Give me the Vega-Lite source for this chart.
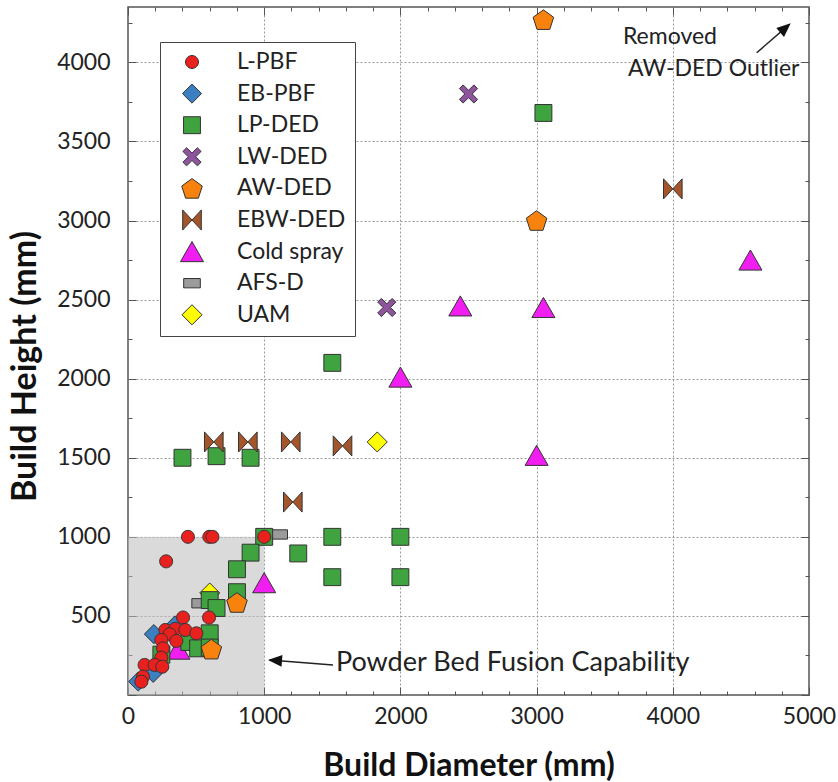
{
  "$schema": "https://vega.github.io/schema/vega-lite/v6.json",
  "width": 681,
  "height": 688,
  "autosize": "none",
  "padding": {"left": 128, "top": 7, "right": 29, "bottom": 87},
  "background": "white",
  "config": {
    "view": {"stroke": "#555", "strokeWidth": 1.5},
    "font": "Lato"
  },
  "datasets": {
    "pts": [
      {"p": "AFS-D", "d": 1110, "h": 1015},
      {"p": "AFS-D", "d": 530, "h": 580},
      {"p": "UAM", "d": 1830, "h": 1600},
      {"p": "UAM", "d": 600, "h": 645},
      {"p": "Cold spray", "d": 4570, "h": 2750},
      {"p": "Cold spray", "d": 2440, "h": 2460},
      {"p": "Cold spray", "d": 3050, "h": 2450},
      {"p": "Cold spray", "d": 2000, "h": 2010},
      {"p": "Cold spray", "d": 3000, "h": 1515},
      {"p": "Cold spray", "d": 1000, "h": 710},
      {"p": "Cold spray", "d": 370, "h": 290},
      {"p": "EB-PBF", "d": 190, "h": 385},
      {"p": "EB-PBF", "d": 345, "h": 440},
      {"p": "EB-PBF", "d": 75, "h": 85},
      {"p": "EB-PBF", "d": 185, "h": 140},
      {"p": "LP-DED", "d": 400, "h": 1500},
      {"p": "LP-DED", "d": 650, "h": 1510},
      {"p": "LP-DED", "d": 900, "h": 1500},
      {"p": "LP-DED", "d": 1500, "h": 2100},
      {"p": "LP-DED", "d": 3050, "h": 3680},
      {"p": "LP-DED", "d": 1000, "h": 1000},
      {"p": "LP-DED", "d": 900, "h": 900},
      {"p": "LP-DED", "d": 800, "h": 795},
      {"p": "LP-DED", "d": 1250, "h": 895},
      {"p": "LP-DED", "d": 1500, "h": 1000},
      {"p": "LP-DED", "d": 2000, "h": 1000},
      {"p": "LP-DED", "d": 1500, "h": 745},
      {"p": "LP-DED", "d": 2000, "h": 745},
      {"p": "LP-DED", "d": 800, "h": 650},
      {"p": "LP-DED", "d": 600, "h": 600},
      {"p": "LP-DED", "d": 650, "h": 550},
      {"p": "LP-DED", "d": 600, "h": 390},
      {"p": "LP-DED", "d": 450, "h": 335},
      {"p": "LP-DED", "d": 515, "h": 295},
      {"p": "LP-DED", "d": 245, "h": 255},
      {"p": "LP-DED", "d": 600, "h": 300},
      {"p": "L-PBF", "d": 440, "h": 1000},
      {"p": "L-PBF", "d": 597, "h": 1000},
      {"p": "L-PBF", "d": 620, "h": 1000},
      {"p": "L-PBF", "d": 1000, "h": 1000},
      {"p": "L-PBF", "d": 280, "h": 845},
      {"p": "L-PBF", "d": 404, "h": 490},
      {"p": "L-PBF", "d": 595, "h": 490},
      {"p": "L-PBF", "d": 274, "h": 411},
      {"p": "L-PBF", "d": 347, "h": 418},
      {"p": "L-PBF", "d": 421, "h": 411},
      {"p": "L-PBF", "d": 502, "h": 390},
      {"p": "L-PBF", "d": 306, "h": 384},
      {"p": "L-PBF", "d": 245, "h": 348},
      {"p": "L-PBF", "d": 355, "h": 342},
      {"p": "L-PBF", "d": 257, "h": 295},
      {"p": "L-PBF", "d": 245, "h": 236},
      {"p": "L-PBF", "d": 122, "h": 190},
      {"p": "L-PBF", "d": 196, "h": 190},
      {"p": "L-PBF", "d": 252, "h": 179},
      {"p": "L-PBF", "d": 110, "h": 116},
      {"p": "L-PBF", "d": 98, "h": 84},
      {"p": "AW-DED", "d": 3050, "h": 4270},
      {"p": "AW-DED", "d": 3000, "h": 3000},
      {"p": "AW-DED", "d": 800, "h": 585},
      {"p": "AW-DED", "d": 612, "h": 290},
      {"p": "LW-DED", "d": 2500, "h": 3800},
      {"p": "LW-DED", "d": 1900, "h": 2450},
      {"p": "EBW-DED", "d": 630, "h": 1600},
      {"p": "EBW-DED", "d": 880, "h": 1600},
      {"p": "EBW-DED", "d": 1195, "h": 1600},
      {"p": "EBW-DED", "d": 1575, "h": 1575},
      {"p": "EBW-DED", "d": 1210, "h": 1220},
      {"p": "EBW-DED", "d": 4000, "h": 3200}
    ]
  },
  "layer": [
    {
      "data": {"values": [{"d": 0, "d2": 1000, "h": 0, "h2": 1000}]},
      "mark": {"type": "rect", "fill": "#bbbbbb", "opacity": 0.55},
      "encoding": {
        "x": {"field": "d", "type": "quantitative", "axis": null, "scale": {"domain": [0, 5000], "nice": false, "zero": false}},
        "x2": {"field": "d2"},
        "y": {"field": "h", "type": "quantitative", "axis": null, "scale": {"domain": [0, 4350], "nice": false, "zero": false}},
        "y2": {"field": "h2"}
      }
    },
    {
      "data": {"values": [{"d": 0, "h": 0}]},
      "mark": {"type": "point", "opacity": 0},
      "encoding": {
        "x": {"field": "d", "type": "quantitative",
          "axis": {"orient": "top", "title": null, "labels": false, "grid": false, "domain": false,
            "values": [0,200,400,600,800,1000,1200,1400,1600,1800,2000,2200,2400,2600,2800,3000,3200,3400,3600,3800,4000,4200,4400,4600,4800,5000],
            "tickColor": "#555",
            "tickSize": {"condition": {"test": "datum.value % 1000 === 0", "value": -8}, "value": -4}}},
        "y": {"field": "h", "type": "quantitative",
          "axis": {"orient": "right", "title": null, "labels": false, "grid": false, "domain": false,
            "values": [0,250,500,750,1000,1250,1500,1750,2000,2250,2500,2750,3000,3250,3500,3750,4000,4250],
            "tickColor": "#555",
            "tickSize": {"condition": {"test": "datum.value % 500 === 0", "value": -8}, "value": -4}}}
      }
    },
    {
      "data": {"name": "pts"},
      "mark": {"type": "point", "filled": true, "opacity": 1, "stroke": "#333", "strokeWidth": 1, "size": 600},
      "encoding": {
        "x": {"field": "d", "type": "quantitative",
          "axis": {"orient": "bottom", "title": "Build Diameter (mm)",
            "values": [0,200,400,600,800,1000,1200,1400,1600,1800,2000,2200,2400,2600,2800,3000,3200,3400,3600,3800,4000,4200,4400,4600,4800,5000],
            "format": "d",
            "labelExpr": "datum.value % 1000 === 0 ? datum.label : ''",
            "labelFlush": false, "labelOverlap": false,
            "labelFont": "Lato", "labelFontSize": 23, "labelColor": "#222", "labelPadding": 18,
            "domain": false, "tickColor": "#555",
            "tickSize": {"condition": {"test": "datum.value % 1000 === 0", "value": -8}, "value": -4},
            "grid": true, "gridColor": "#999", "gridDash": [2, 2],
            "gridOpacity": {"condition": {"test": "datum.value % 1000 === 0 && datum.value > 0 && datum.value < 5000", "value": 1}, "value": 0},
            "titleFont": "Lato", "titleFontSize": 32, "titleFontWeight": "bold", "titleColor": "#111",
            "titleY": 70, "titleBaseline": "middle"}},
        "y": {"field": "h", "type": "quantitative",
          "axis": {"orient": "left", "title": "Build Height (mm)",
            "values": [0,250,500,750,1000,1250,1500,1750,2000,2250,2500,2750,3000,3250,3500,3750,4000,4250],
            "format": "d",
            "labelExpr": "datum.value % 500 === 0 && datum.value > 0 ? datum.label : ''",
            "labelOverlap": false, "labelFlush": false,
            "labelFont": "Lato", "labelFontSize": 23, "labelColor": "#222", "labelPadding": 26,
            "domain": false, "tickColor": "#555",
            "tickSize": {"condition": {"test": "datum.value % 500 === 0", "value": -8}, "value": -4},
            "grid": true, "gridColor": "#999", "gridDash": [2, 2],
            "gridOpacity": {"condition": {"test": "datum.value % 500 === 0 && datum.value > 0", "value": 1}, "value": 0},
            "titleFont": "Lato", "titleFontSize": 34, "titleFontWeight": "bold", "titleColor": "#111",
            "titleX": -103, "titleY": 359, "titleBaseline": "middle"}},
        "color": {"field": "p", "type": "nominal",
          "scale": {"domain": ["L-PBF", "EB-PBF", "LP-DED", "LW-DED", "AW-DED", "EBW-DED", "Cold spray", "AFS-D", "UAM"],
            "range": ["#e8201e", "#3c7fc1", "#3fa33f", "#8e559e", "#f7820e", "#a4552a", "#f01ef0", "#9b9b9b", "#ffff00"]},
          "legend": {"orient": "none", "legendX": 32, "legendY": 35, "title": null,
            "strokeColor": "#444", "fillColor": "white", "padding": 9,
            "symbolSize": 600, "symbolOffset": 10, "labelOffset": 32, "clipHeight": 22, "rowPadding": 8.6,
            "labelFont": "Lato", "labelFontSize": 23, "labelColor": "#222",
            "symbolStrokeColor": "#333", "symbolStrokeWidth": 1, "symbolOpacity": 1}},
        "shape": {"field": "p", "type": "nominal",
          "scale": {"domain": ["L-PBF", "EB-PBF", "LP-DED", "LW-DED", "AW-DED", "EBW-DED", "Cold spray", "AFS-D", "UAM"],
            "range": [
              "M-0.53,0A0.53,0.53,0,1,0,0.53,0A0.53,0.53,0,1,0,-0.53,0Z",
              "M-0.78,0L0,-0.78L0.78,0L0,0.78Z",
              "M-0.69,-0.69L0.69,-0.69L0.69,0.69L-0.69,0.69Z",
              "M-0.74,-0.44L-0.44,-0.74L0,-0.3L0.44,-0.74L0.74,-0.44L0.3,0L0.74,0.44L0.44,0.74L0,0.3L-0.44,0.74L-0.74,0.44L-0.3,0Z",
              "M0,-0.8L0.84,-0.19L0.52,0.8L-0.52,0.8L-0.84,-0.19Z",
              "M-0.76,-0.82L0,0L0.76,-0.82L0.76,0.82L0,0L-0.76,0.82Z",
              "M0,-0.82L0.94,0.82L-0.94,0.82Z",
              "M-0.68,-0.38L0.68,-0.38L0.68,0.38L-0.68,0.38Z",
              "M-0.82,0L0,-0.82L0.82,0L0,0.82Z"]}}
      }
    },
    {
      "data": {"values": [
        {"d": 3634, "h": 4158, "t": "Removed"},
        {"d": 3671, "h": 3956, "t": "AW-DED Outlier"}
      ]},
      "mark": {"type": "text", "align": "left", "baseline": "middle", "font": "Lato", "fontSize": 23, "color": "#222"},
      "encoding": {
        "x": {"field": "d", "type": "quantitative", "axis": null},
        "y": {"field": "h", "type": "quantitative", "axis": null},
        "text": {"field": "t"}
      }
    },
    {
      "data": {"values": [{"d": 1527, "h": 203, "t": "Powder Bed Fusion Capability"}]},
      "mark": {"type": "text", "align": "left", "baseline": "middle", "font": "Lato", "fontSize": 27, "color": "#222"},
      "encoding": {
        "x": {"field": "d", "type": "quantitative", "axis": null},
        "y": {"field": "h", "type": "quantitative", "axis": null},
        "text": {"field": "t"}
      }
    },
    {
      "data": {"values": [
        {"d": 1505, "h": 190, "d2": 1040, "h2": 221},
        {"d": 4616, "h": 4061, "d2": 4850, "h2": 4235}
      ]},
      "mark": {"type": "rule", "color": "#222", "strokeWidth": 1.5},
      "encoding": {
        "x": {"field": "d", "type": "quantitative", "axis": null},
        "y": {"field": "h", "type": "quantitative", "axis": null},
        "x2": {"field": "d2"},
        "y2": {"field": "h2"}
      }
    },
    {
      "data": {"values": [{"d": 1028, "h": 222}]},
      "mark": {"type": "point", "shape": "M0,0L-0.42,1L0.42,1Z", "size": 784, "angle": 274.4, "filled": true, "color": "#111", "opacity": 1},
      "encoding": {
        "x": {"field": "d", "type": "quantitative", "axis": null},
        "y": {"field": "h", "type": "quantitative", "axis": null}
      }
    },
    {
      "data": {"values": [{"d": 4866, "h": 4247}]},
      "mark": {"type": "point", "shape": "M0,0L-0.42,1L0.42,1Z", "size": 784, "angle": 49.2, "filled": true, "color": "#111", "opacity": 1},
      "encoding": {
        "x": {"field": "d", "type": "quantitative", "axis": null},
        "y": {"field": "h", "type": "quantitative", "axis": null}
      }
    }
  ],
  "resolve": {"axis": {"x": "independent", "y": "independent"}}
}
